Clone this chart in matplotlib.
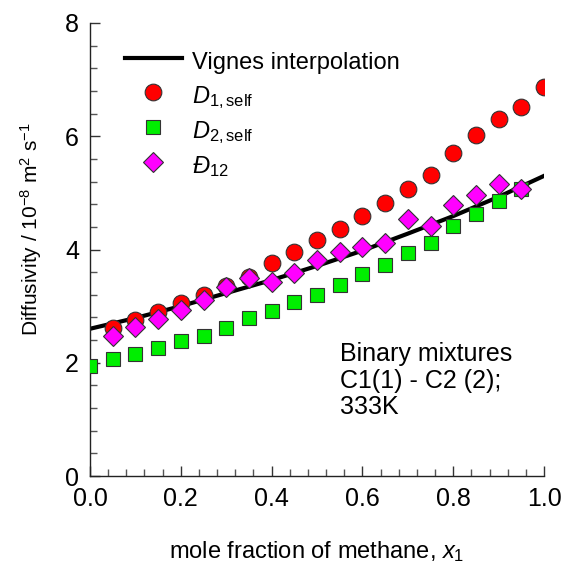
import numpy as np
import matplotlib.pyplot as plt
from matplotlib.ticker import MultipleLocator

plt.rcParams['font.family'] = ['Liberation Sans', 'DejaVu Sans']
plt.rcParams['mathtext.fontset'] = 'custom'
plt.rcParams['mathtext.rm'] = 'Liberation Sans'
plt.rcParams['mathtext.it'] = 'Liberation Sans:italic'
plt.rcParams['mathtext.bf'] = 'Liberation Sans:bold'

# mole fraction of methane
x_d1 = [0.05, 0.10, 0.15, 0.20, 0.25, 0.30, 0.35, 0.40, 0.45, 0.50,
        0.55, 0.60, 0.65, 0.70, 0.75, 0.80, 0.85, 0.90, 0.95, 1.00]
d1_self = [2.61, 2.75, 2.89, 3.05, 3.19, 3.35, 3.52, 3.77, 3.95, 4.16,
           4.37, 4.60, 4.83, 5.07, 5.32, 5.71, 6.03, 6.31, 6.52, 6.87]

x_d2 = [0.00, 0.05, 0.10, 0.15, 0.20, 0.25, 0.30, 0.35, 0.40, 0.45,
        0.50, 0.55, 0.60, 0.65, 0.70, 0.75, 0.80, 0.85, 0.90, 0.95]
d2_self = [1.94, 2.06, 2.16, 2.26, 2.38, 2.47, 2.61, 2.79, 2.92, 3.08,
           3.20, 3.37, 3.56, 3.72, 3.93, 4.11, 4.42, 4.63, 4.85, 5.06]

x_d12 = [0.05, 0.10, 0.15, 0.20, 0.25, 0.30, 0.35, 0.40, 0.45, 0.50,
         0.55, 0.60, 0.65, 0.70, 0.75, 0.80, 0.85, 0.90, 0.95]
d12 = [2.47, 2.63, 2.78, 2.94, 3.10, 3.33, 3.49, 3.42, 3.59, 3.82,
       3.95, 4.05, 4.12, 4.53, 4.41, 4.79, 4.97, 5.16, 5.06]

# Vignes interpolation curve
x_vig = [0.0, 0.1, 0.2, 0.3, 0.4, 0.5, 0.6, 0.7, 0.8, 0.9, 1.0]
d_vig = [2.60, 2.79, 3.00, 3.23, 3.46, 3.71, 3.98, 4.28, 4.59, 4.93, 5.30]

fig = plt.figure(figsize=(5.65, 5.68), dpi=100)
ax = fig.add_axes([90/565, 1-476/568, (544-90)/565, (476-23)/568])

ax.plot(x_vig, d_vig, color='black', lw=3, label='Vignes interpolation', zorder=2)
ax.plot(x_d1, d1_self, 'o', ms=12, mfc='red', mec='#333333', mew=0.8,
        label=r'$\mathit{D}_{\mathrm{1,self}}$', zorder=3)
ax.plot(x_d2, d2_self, 's', ms=10.5, mfc='#00ee00', mec='#333333', mew=0.8,
        label=r'$\mathit{D}_{\mathrm{2,self}}$', zorder=3)
ax.plot(x_d12, d12, 'D', ms=10, mfc='magenta', mec='#333333', mew=0.8,
        label=r'$\mathit{Đ}_{\mathrm{12}}$', zorder=4)

ax.set_xlim(0, 1)
ax.set_ylim(0, 8)
ax.spines['top'].set_visible(False)
ax.spines['right'].set_visible(False)
for s in ['left', 'bottom']:
    ax.spines[s].set_color('#222222')
    ax.spines[s].set_linewidth(1.0)

ax.xaxis.set_major_locator(MultipleLocator(0.2))
ax.xaxis.set_minor_locator(MultipleLocator(0.04))
ax.yaxis.set_major_locator(MultipleLocator(2))
ax.yaxis.set_minor_locator(MultipleLocator(0.4))
ax.xaxis.set_major_formatter(plt.FormatStrFormatter('%.1f'))
ax.tick_params(which='major', direction='in', length=7, width=1, colors='#333333',
               labelcolor='black', labelsize=18, pad=8)
ax.tick_params(which='minor', direction='in', length=5, width=1, colors='#555555')

ax.set_xlabel(r'mole fraction of methane, $\mathit{x}_{1}$', fontsize=17, labelpad=20)
ax.set_ylabel(r'Diffusivity / 10$^{-8}$ m$^{2}$ s$^{-1}$', fontsize=15)
ax.yaxis.set_label_coords(-0.102, 0.545)

ax.text(0.551, 2.36, 'Binary mixtures\nC1(1) - C2 (2);\n333K', fontsize=18,
        va='top', ha='left', linespacing=1.12)

ax.legend(loc='upper left', bbox_to_anchor=(0.077, 0.948), frameon=False, fontsize=17,
          handlelength=2.4, handletextpad=0.45, handleheight=1.5, labelspacing=0.22,
          borderaxespad=0, borderpad=0)

fig.savefig('out.png', dpi=100)
